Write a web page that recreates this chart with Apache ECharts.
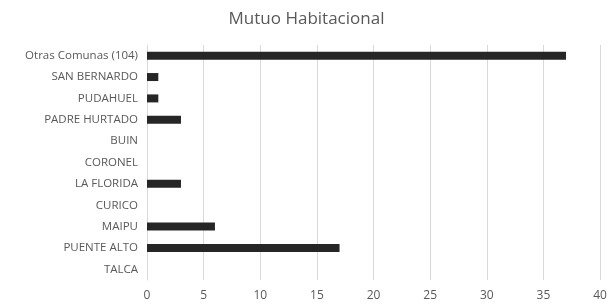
<!DOCTYPE html>
<html>

<head>
    <meta charset="utf-8">
</head>

<body style="margin: 0">
    <div id="container" style="width: 613px; height: 306px"></div>
    <script type="text/javascript" src="https://cdn.jsdelivr.net/npm/echarts@6/dist/echarts.min.js"></script>
    <script>
        // categories bottom to top (category axis starts at the bottom)
        var comunas = ['TALCA', 'PUENTE ALTO', 'MAIPU', 'CURICO', 'LA FLORIDA', 'CORONEL', 'BUIN', 'PADRE HURTADO', 'PUDAHUEL', 'SAN BERNARDO', 'Otras Comunas (104)']
        var valores = [0, 17, 6, 0, 3, 0, 0, 3, 1, 1, 37]
        var xTicks = [0, 40, 5]

        var myChart = echarts.init(document.getElementById('container'));
        var option = {
            title: {
                text: 'Mutuo Habitacional',
                left: 'center',
                top: 6,
                textStyle: {
                    color: '#595959',
                    fontSize: 17,
                    fontWeight: 'normal',
                    fontFamily: 'Open Sans'
                }
            },
            grid: {
                left: 147,
                right: 13,
                top: 45,
                bottom: 26
            },
            xAxis: {
                type: 'value',
                min: xTicks[0],
                max: xTicks[1],
                interval: xTicks[2],
                axisLine: { show: false },
                axisTick: { show: false },
                splitLine: { lineStyle: { color: '#d9d9d9' } },
                axisLabel: {
                    color: '#595959',
                    fontSize: 12,
                    fontFamily: 'Open Sans',
                    margin: 10
                }
            },
            yAxis: {
                type: 'category',
                data: comunas,
                axisLine: { lineStyle: { color: '#d9d9d9' } },
                axisTick: { show: false },
                axisLabel: {
                    color: '#595959',
                    fontSize: 11.5,
                    fontFamily: 'Open Sans',
                    margin: 9
                }
            },
            series: [{
                type: 'bar',
                data: valores,
                barWidth: 8,
                itemStyle: { color: '#262626' },
                animation: false
            }]
        };
        myChart.setOption(option);
    </script>

</body>

</html>
